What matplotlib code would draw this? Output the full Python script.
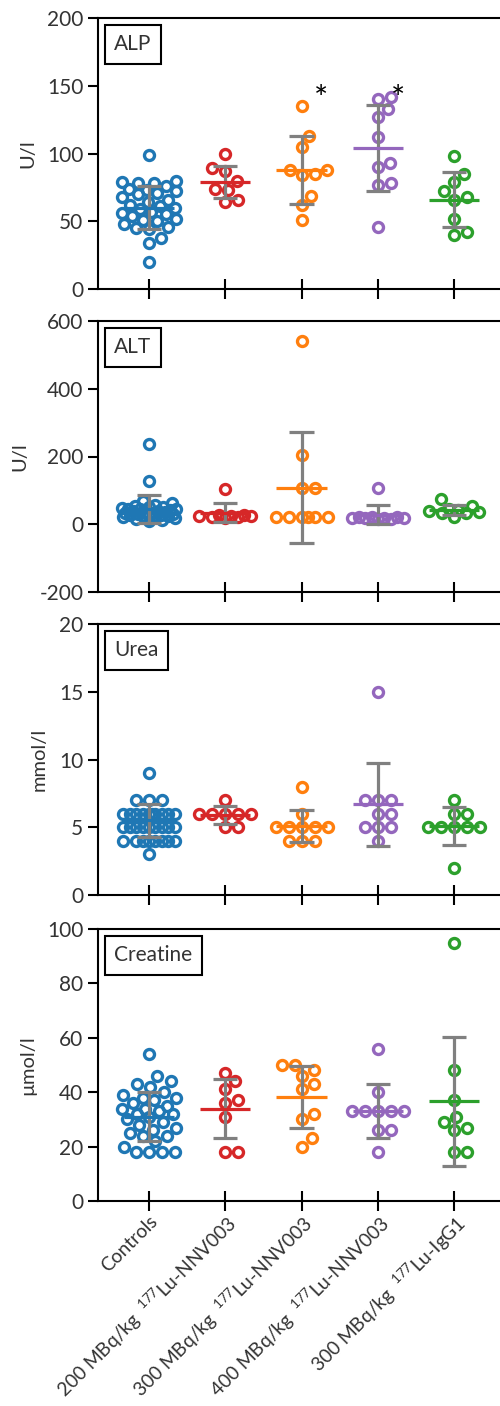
import numpy as np
import matplotlib.pyplot as plt

plt.rcParams['font.family'] = ['Lato', 'DejaVu Sans']
plt.rcParams['mathtext.default'] = 'regular'
plt.rcParams['axes.unicode_minus'] = False

groups = ["Controls",
          "200 MBq/kg  $^{\\mathregular{177}}$Lu-NNV003",
          "300 MBq/kg  $^{\\mathregular{177}}$Lu-NNV003",
          "400 MBq/kg  $^{\\mathregular{177}}$Lu-NNV003",
          "300 MBq/kg  $^{\\mathregular{177}}$Lu-IgG1"]
colors = ["#1f77b4", "#d62728", "#ff7f0e", "#9467bd", "#2ca02c"]

# ALP (U/l)
alp_ctrl = [99, 80, 79, 78, 78, 76, 74, 73, 72, 71, 70, 68, 66, 64, 62, 61,
            60, 59, 57, 56, 55, 54, 52, 51, 50, 48, 46, 45, 44, 38, 34, 20]
alp_200 = [100, 89, 87, 80, 74, 73, 66, 64]
alp_300 = [135, 113, 105, 88, 88, 85, 84, 69, 62, 51]
alp_400 = [142, 140, 133, 127, 112, 93, 90, 78, 77, 46]
alp_igg = [98, 85, 79, 72, 68, 66, 52, 42, 40]
alp_mean = [60, 79, 88, 104, 66]
alp_sd = [16, 12, 25, 32, 20]

# ALT (U/l)
alt_ctrl = [238, 128, 70, 62, 58, 55, 52, 50, 48, 46, 45, 44, 42, 40, 38, 36,
            35, 34, 32, 30, 30, 28, 27, 26, 25, 24, 22, 20, 18, 15, 12, 10]
alt_200 = [103, 28, 26, 25, 24, 24, 22, 20, 18]
alt_300 = [541, 204, 107, 107, 20, 20, 20, 20, 20, 20]
alt_400 = [107, 22, 20, 20, 19, 18, 18, 17, 16, 15]
alt_igg = [76, 55, 46, 42, 38, 35, 33, 32, 20]
alt_mean = [45, 34, 108, 28, 42]
alt_sd = [41, 28, 164, 28, 15]

# Urea (mmol/l)
urea_ctrl = [9, 7, 7, 7, 6, 6, 6, 6, 6, 6, 6, 6, 6, 6, 5, 5, 5, 5, 5, 5, 5, 5,
             5, 4, 4, 4, 4, 4, 4, 4, 4, 3]
urea_200 = [7, 6, 6, 6, 6, 6, 5, 5]
urea_300 = [8, 6, 5, 5, 5, 5, 5, 4, 4, 4]
urea_400 = [15, 7, 7, 7, 6, 6, 5, 5, 5, 4]
urea_igg = [7, 6, 6, 5, 5, 5, 5, 5, 2]
urea_mean = [5.5, 5.9, 5.1, 6.7, 5.1]
urea_sd = [1.2, 0.65, 1.2, 3.05, 1.4]

# Creatine (umol/l)
crea_ctrl = [54, 46, 44, 43, 42, 40, 39, 38, 38, 37, 36, 35, 34, 34, 33, 32,
             32, 31, 30, 29, 28, 27, 26, 25, 24, 24, 22, 20, 18, 18, 18, 18]
crea_200 = [47, 44, 41, 37, 36, 31, 18, 18]
crea_300 = [50, 50, 48, 46, 43, 41, 32, 30, 23, 20]
crea_400 = [56, 40, 33, 33, 33, 33, 33, 26, 26, 18]
crea_igg = [95, 48, 37, 31, 29, 27, 26, 18, 18]
crea_mean = [31, 34, 38.3, 33.1, 36.6]
crea_sd = [9, 11, 11.4, 10, 23.8]

panels = [
    ("ALP", "U/l", (0, 200), [0, 50, 100, 150, 200],
     [alp_ctrl, alp_200, alp_300, alp_400, alp_igg], alp_mean, alp_sd),
    ("ALT", "U/l", (-200, 600), [-200, 0, 200, 400, 600],
     [alt_ctrl, alt_200, alt_300, alt_400, alt_igg], alt_mean, alt_sd),
    ("Urea", "mmol/l", (0, 20), [0, 5, 10, 15, 20],
     [urea_ctrl, urea_200, urea_300, urea_400, urea_igg], urea_mean, urea_sd),
    ("Creatine", "\u00b5mol/l", (0, 100), [0, 20, 40, 60, 80, 100],
     [crea_ctrl, crea_200, crea_300, crea_400, crea_igg], crea_mean, crea_sd),
]
# significance marks: (group index, value)
stars = {"ALP": [(2, 133), (3, 133)]}

W, H = 500, 1406
boxes = [(18, 289), (321, 592), (624, 895), (929, 1201)]
left_px = 98
xlim = (-0.669, 4.603)
grey = "#808080"
txt = "#333333"


def swarm(vals, ppu_y, ppu_x, d=12.5, maxw=27.0):
    y = np.asarray(vals, float) * ppu_y
    order = np.argsort(y, kind="stable")
    px = np.zeros(len(y))
    done = []
    steps = np.arange(1, maxw + 0.5, 1.0)
    cands = np.concatenate([[0.0], np.ravel(np.column_stack([steps, -steps]))])
    for i in order:
        best, bestd = 0.0, -1.0
        for c in cands:
            if done:
                dist = min(np.hypot(c - px[j], y[i] - y[j]) for j in done)
            else:
                dist = np.inf
            if dist >= d:
                best = c
                break
            if dist > bestd + 1e-9:
                best, bestd = c, dist
        px[i] = best
        done.append(i)
    return px / ppu_x


fig = plt.figure(figsize=(W / 100, H / 100), dpi=100)
for k, (name, unit, ylim, yticks, data, means, sds) in enumerate(panels):
    top, bot = boxes[k]
    ax = fig.add_axes([left_px / W, 1 - bot / H, (W - left_px) / W, (bot - top) / H])
    ax.set_xlim(*xlim)
    ax.set_ylim(*ylim)
    ppu_y = (bot - top) / (ylim[1] - ylim[0])
    ppu_x = (W - left_px) / (xlim[1] - xlim[0])
    for i, vals in enumerate(data):
        off = swarm(vals, ppu_y, ppu_x)
        ax.plot(i + off, vals, 'o', ms=7.2, mfc='none', mec=colors[i], mew=2.4,
                zorder=2, clip_on=False)
        m, s = means[i], sds[i]
        ax.plot([i, i], [m - s, m + s], color=grey, lw=2.3, zorder=3,
                solid_capstyle='butt')
        ax.hlines([m - s, m + s], i - 0.16, i + 0.16, color=grey, lw=2.3, zorder=3)
        ax.hlines(m, i - 0.33, i + 0.33, color=colors[i], lw=2.3, zorder=4)
    for sx, sy in stars.get(name, []):
        ax.text(sx + 0.26, sy, "*", fontsize=24, ha='center', va='baseline',
                color='black')
    ax.text(0.04, 0.94, name, transform=ax.transAxes, ha='left', va='top',
            fontsize=15, color=txt,
            bbox=dict(boxstyle='square,pad=0.45', fc='white', ec='black', lw=1.5))
    ax.spines['right'].set_visible(False)
    for sp in ('left', 'top', 'bottom'):
        ax.spines[sp].set_linewidth(1.5)
    ax.set_yticks(yticks)
    ax.set_xticks(range(len(groups)))
    ax.tick_params(axis='y', direction='out', length=7, width=1.5, pad=3.5,
                   labelsize=15, labelcolor=txt)
    ax.tick_params(axis='x', direction='inout', length=14, width=1.5,
                   labelsize=13.8, labelcolor=txt, pad=1)
    ax.set_ylabel(unit, fontsize=14.5, color=txt, labelpad=8)
    if k == len(panels) - 1:
        ax.set_xticklabels(groups, rotation=45, ha='right', rotation_mode='anchor')
    else:
        ax.set_xticklabels([])

fig.savefig("out.png", dpi=100)
